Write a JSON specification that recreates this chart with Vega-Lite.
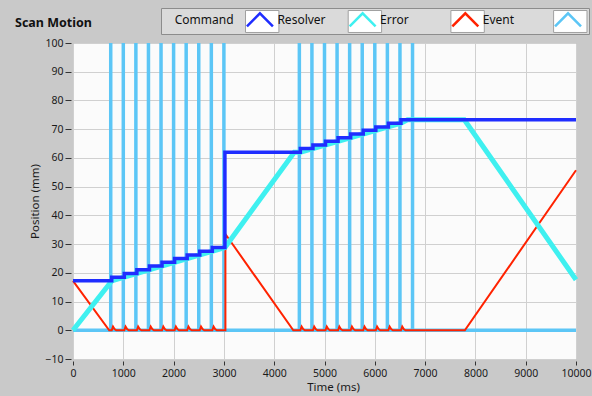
{
  "$schema": "https://vega.github.io/schema/vega-lite/v6.json",
  "width": 503,
  "height": 316,
  "autosize": {"type": "none"},
  "padding": {"left": 73, "top": 43, "right": 16, "bottom": 37},
  "background": "#c9c9c9",
  "title": {"text": "Scan Motion", "anchor": "start", "frame": "group", "dx": -58, "dy": 44, "offset": 12, "baseline": "alphabetic", "font": "Noto Sans", "fontSize": 12.5, "fontWeight": "bold", "color": "#111111"},
  "config": {"view": {"fill": "#fbfbfb", "stroke": "#9a9a9a"}, "font": "Noto Sans"},
  "data": {"values": [
    {"s":"Command","t":0,"v":17.2,"i":0},{"s":"Command","t":770,"v":18.5,"i":1},{"s":"Command","t":1020,"v":19.8,"i":2},{"s":"Command","t":1270,"v":21.1,"i":3},{"s":"Command","t":1520,"v":22.4,"i":4},{"s":"Command","t":1770,"v":23.7,"i":5},{"s":"Command","t":2020,"v":25.0,"i":6},{"s":"Command","t":2270,"v":26.2,"i":7},{"s":"Command","t":2520,"v":27.5,"i":8},{"s":"Command","t":2770,"v":28.8,"i":9},{"s":"Command","t":3020,"v":62.0,"i":10},{"s":"Command","t":4520,"v":63.3,"i":11},{"s":"Command","t":4770,"v":64.5,"i":12},{"s":"Command","t":5020,"v":65.8,"i":13},{"s":"Command","t":5270,"v":67.0,"i":14},{"s":"Command","t":5520,"v":68.3,"i":15},{"s":"Command","t":5770,"v":69.6,"i":16},{"s":"Command","t":6020,"v":70.8,"i":17},{"s":"Command","t":6270,"v":72.1,"i":18},{"s":"Command","t":6520,"v":73.3,"i":19},{"s":"Command","t":10000,"v":73.3,"i":20},
    {"s":"Resolver","t":0,"v":0,"i":0},{"s":"Resolver","t":770,"v":17.2,"i":1},{"s":"Resolver","t":3020,"v":28.8,"i":2},{"s":"Resolver","t":4400,"v":62.0,"i":3},{"s":"Resolver","t":4520,"v":62.0,"i":4},{"s":"Resolver","t":6520,"v":72.1,"i":5},{"s":"Resolver","t":6650,"v":73.3,"i":6},{"s":"Resolver","t":7780,"v":73.3,"i":7},{"s":"Resolver","t":10000,"v":17.6,"i":8},
    {"s":"Error","t":0,"v":17.2,"i":0},{"s":"Error","t":720,"v":0,"i":1},
    {"s":"Error","t":770,"v":0,"i":2},{"s":"Error","t":795,"v":1.3,"i":3},{"s":"Error","t":825,"v":0.4,"i":4},{"s":"Error","t":860,"v":0,"i":5},
    {"s":"Error","t":1020,"v":0,"i":6},{"s":"Error","t":1045,"v":1.3,"i":7},{"s":"Error","t":1075,"v":0.4,"i":8},{"s":"Error","t":1110,"v":0,"i":9},
    {"s":"Error","t":1270,"v":0,"i":10},{"s":"Error","t":1295,"v":1.3,"i":11},{"s":"Error","t":1325,"v":0.4,"i":12},{"s":"Error","t":1360,"v":0,"i":13},
    {"s":"Error","t":1520,"v":0,"i":14},{"s":"Error","t":1545,"v":1.3,"i":15},{"s":"Error","t":1575,"v":0.4,"i":16},{"s":"Error","t":1610,"v":0,"i":17},
    {"s":"Error","t":1770,"v":0,"i":18},{"s":"Error","t":1795,"v":1.3,"i":19},{"s":"Error","t":1825,"v":0.4,"i":20},{"s":"Error","t":1860,"v":0,"i":21},
    {"s":"Error","t":2020,"v":0,"i":22},{"s":"Error","t":2045,"v":1.3,"i":23},{"s":"Error","t":2075,"v":0.4,"i":24},{"s":"Error","t":2110,"v":0,"i":25},
    {"s":"Error","t":2270,"v":0,"i":26},{"s":"Error","t":2295,"v":1.3,"i":27},{"s":"Error","t":2325,"v":0.4,"i":28},{"s":"Error","t":2360,"v":0,"i":29},
    {"s":"Error","t":2520,"v":0,"i":30},{"s":"Error","t":2545,"v":1.3,"i":31},{"s":"Error","t":2575,"v":0.4,"i":32},{"s":"Error","t":2610,"v":0,"i":33},
    {"s":"Error","t":2770,"v":0,"i":34},{"s":"Error","t":2795,"v":1.3,"i":35},{"s":"Error","t":2825,"v":0.4,"i":36},{"s":"Error","t":2860,"v":0,"i":37},
    {"s":"Error","t":3030,"v":0,"i":38},{"s":"Error","t":3030,"v":33.5,"i":39},{"s":"Error","t":4380,"v":0,"i":40},
    {"s":"Error","t":4520,"v":0,"i":41},{"s":"Error","t":4545,"v":1.3,"i":42},{"s":"Error","t":4575,"v":0.4,"i":43},{"s":"Error","t":4610,"v":0,"i":44},
    {"s":"Error","t":4770,"v":0,"i":45},{"s":"Error","t":4795,"v":1.3,"i":46},{"s":"Error","t":4825,"v":0.4,"i":47},{"s":"Error","t":4860,"v":0,"i":48},
    {"s":"Error","t":5020,"v":0,"i":49},{"s":"Error","t":5045,"v":1.3,"i":50},{"s":"Error","t":5075,"v":0.4,"i":51},{"s":"Error","t":5110,"v":0,"i":52},
    {"s":"Error","t":5270,"v":0,"i":53},{"s":"Error","t":5295,"v":1.3,"i":54},{"s":"Error","t":5325,"v":0.4,"i":55},{"s":"Error","t":5360,"v":0,"i":56},
    {"s":"Error","t":5520,"v":0,"i":57},{"s":"Error","t":5545,"v":1.3,"i":58},{"s":"Error","t":5575,"v":0.4,"i":59},{"s":"Error","t":5610,"v":0,"i":60},
    {"s":"Error","t":5770,"v":0,"i":61},{"s":"Error","t":5795,"v":1.3,"i":62},{"s":"Error","t":5825,"v":0.4,"i":63},{"s":"Error","t":5860,"v":0,"i":64},
    {"s":"Error","t":6020,"v":0,"i":65},{"s":"Error","t":6045,"v":1.3,"i":66},{"s":"Error","t":6075,"v":0.4,"i":67},{"s":"Error","t":6110,"v":0,"i":68},
    {"s":"Error","t":6270,"v":0,"i":69},{"s":"Error","t":6295,"v":1.3,"i":70},{"s":"Error","t":6325,"v":0.4,"i":71},{"s":"Error","t":6360,"v":0,"i":72},
    {"s":"Error","t":6520,"v":0,"i":73},{"s":"Error","t":6545,"v":1.3,"i":74},{"s":"Error","t":6575,"v":0.4,"i":75},{"s":"Error","t":6610,"v":0,"i":76},
    {"s":"Error","t":7790,"v":0,"i":77},{"s":"Error","t":10000,"v":55.7,"i":78},
    {"s":"Event","t":0,"v":0,"i":0},
    {"s":"Event","t":750,"v":0,"i":1},{"s":"Event","t":750,"v":100,"i":2},{"s":"Event","t":750,"v":0,"i":3},
    {"s":"Event","t":1000,"v":0,"i":4},{"s":"Event","t":1000,"v":100,"i":5},{"s":"Event","t":1000,"v":0,"i":6},
    {"s":"Event","t":1250,"v":0,"i":7},{"s":"Event","t":1250,"v":100,"i":8},{"s":"Event","t":1250,"v":0,"i":9},
    {"s":"Event","t":1500,"v":0,"i":10},{"s":"Event","t":1500,"v":100,"i":11},{"s":"Event","t":1500,"v":0,"i":12},
    {"s":"Event","t":1750,"v":0,"i":13},{"s":"Event","t":1750,"v":100,"i":14},{"s":"Event","t":1750,"v":0,"i":15},
    {"s":"Event","t":2000,"v":0,"i":16},{"s":"Event","t":2000,"v":100,"i":17},{"s":"Event","t":2000,"v":0,"i":18},
    {"s":"Event","t":2250,"v":0,"i":19},{"s":"Event","t":2250,"v":100,"i":20},{"s":"Event","t":2250,"v":0,"i":21},
    {"s":"Event","t":2500,"v":0,"i":22},{"s":"Event","t":2500,"v":100,"i":23},{"s":"Event","t":2500,"v":0,"i":24},
    {"s":"Event","t":2750,"v":0,"i":25},{"s":"Event","t":2750,"v":100,"i":26},{"s":"Event","t":2750,"v":0,"i":27},
    {"s":"Event","t":3000,"v":0,"i":28},{"s":"Event","t":3000,"v":100,"i":29},{"s":"Event","t":3000,"v":0,"i":30},
    {"s":"Event","t":4500,"v":0,"i":31},{"s":"Event","t":4500,"v":100,"i":32},{"s":"Event","t":4500,"v":0,"i":33},
    {"s":"Event","t":4750,"v":0,"i":34},{"s":"Event","t":4750,"v":100,"i":35},{"s":"Event","t":4750,"v":0,"i":36},
    {"s":"Event","t":5000,"v":0,"i":37},{"s":"Event","t":5000,"v":100,"i":38},{"s":"Event","t":5000,"v":0,"i":39},
    {"s":"Event","t":5250,"v":0,"i":40},{"s":"Event","t":5250,"v":100,"i":41},{"s":"Event","t":5250,"v":0,"i":42},
    {"s":"Event","t":5500,"v":0,"i":43},{"s":"Event","t":5500,"v":100,"i":44},{"s":"Event","t":5500,"v":0,"i":45},
    {"s":"Event","t":5750,"v":0,"i":46},{"s":"Event","t":5750,"v":100,"i":47},{"s":"Event","t":5750,"v":0,"i":48},
    {"s":"Event","t":6000,"v":0,"i":49},{"s":"Event","t":6000,"v":100,"i":50},{"s":"Event","t":6000,"v":0,"i":51},
    {"s":"Event","t":6250,"v":0,"i":52},{"s":"Event","t":6250,"v":100,"i":53},{"s":"Event","t":6250,"v":0,"i":54},
    {"s":"Event","t":6500,"v":0,"i":55},{"s":"Event","t":6500,"v":100,"i":56},{"s":"Event","t":6500,"v":0,"i":57},
    {"s":"Event","t":6750,"v":0,"i":58},{"s":"Event","t":6750,"v":100,"i":59},{"s":"Event","t":6750,"v":0,"i":60},
    {"s":"Event","t":10000,"v":0,"i":61}
  ]},
  "encoding": {
    "x": {"field": "t", "type": "quantitative", "scale": {"domain": [0, 10000], "nice": false},
      "axis": {"title": "Time (ms)", "values": [0,1000,2000,3000,4000,5000,6000,7000,8000,9000,10000], "format": "d",
        "grid": true, "gridColor": "#d0d0d0", "gridWidth": 1, "domain": false, "tickColor": "#333333", "tickSize": 4, "offset": 2,
        "labelFont": "Noto Sans", "labelFontSize": 10.5, "labelColor": "#1a1a1a", "labelPadding": 3, "labelFlush": false,
        "titleFont": "Noto Sans", "titleFontSize": 11.5, "titleFontWeight": "normal", "titleColor": "#1a1a1a", "titlePadding": 3, "titleX": 260}},
    "y": {"field": "v", "type": "quantitative", "scale": {"domain": [-10, 100], "nice": false},
      "axis": {"title": "Position (mm)", "values": [-10,0,10,20,30,40,50,60,70,80,90,100], "format": "d",
        "grid": true, "gridColor": "#d0d0d0", "gridWidth": 1, "domain": false, "tickColor": "#333333", "tickSize": 6, "offset": 2,
        "labelFont": "Noto Sans", "labelFontSize": 10.5, "labelColor": "#1a1a1a", "labelPadding": 2, "labelFlush": false,
        "titleFont": "Noto Sans", "titleFontSize": 11.5, "titleFontWeight": "normal", "titleColor": "#1a1a1a", "titlePadding": 4}},
    "color": {"field": "s", "type": "nominal",
      "scale": {"domain": ["Command", "Resolver", "Error", "Event"], "range": ["#1f2dff", "#3ff0f0", "#ff2200", "#5cc6f6"]},
      "legend": {"orient": "none", "legendX": 88, "legendY": -35, "direction": "horizontal", "columns": 4,
        "title": "\u00a0", "titleOrient": "left", "titlePadding": 82, "titleFontSize": 12,
        "symbolType": "M-0.96,0.36L0.22,-0.84L1.4,0.36", "symbolSize": 484, "symbolStrokeWidth": 2.5, "symbolFillColor": "transparent",
        "labelOffset": -95.3, "labelAlign": "left", "labelFont": "Noto Sans", "labelFontSize": 12, "labelColor": "#111111", "labelLimit": 0,
        "columnPadding": -2.3, "padding": 2, "fillColor": "#dadada", "strokeColor": "#8c8c8c",
        "encode": {
          "entries": {"update": {"width": {"value": 29}, "height": {"value": 19}, "fill": {"value": "#ffffff"}, "stroke": {"value": "#a0a0a0"}, "strokeWidth": {"value": 1}}},
          "labels": {"update": {"dy": {"value": -2.5}}}
        }}},
    "order": {"field": "i", "type": "quantitative"}
  },
  "layer": [
    {"transform": [{"filter": "datum.s === 'Event'"}], "mark": {"type": "line", "strokeWidth": 3.5}},
    {"transform": [{"filter": "datum.s === 'Error'"}], "mark": {"type": "line", "strokeWidth": 2}},
    {"transform": [{"filter": "datum.s === 'Resolver'"}], "mark": {"type": "line", "strokeWidth": 5}},
    {"transform": [{"filter": "datum.s === 'Command'"}], "mark": {"type": "line", "strokeWidth": 3.5, "interpolate": "step-after"}}
  ]
}
